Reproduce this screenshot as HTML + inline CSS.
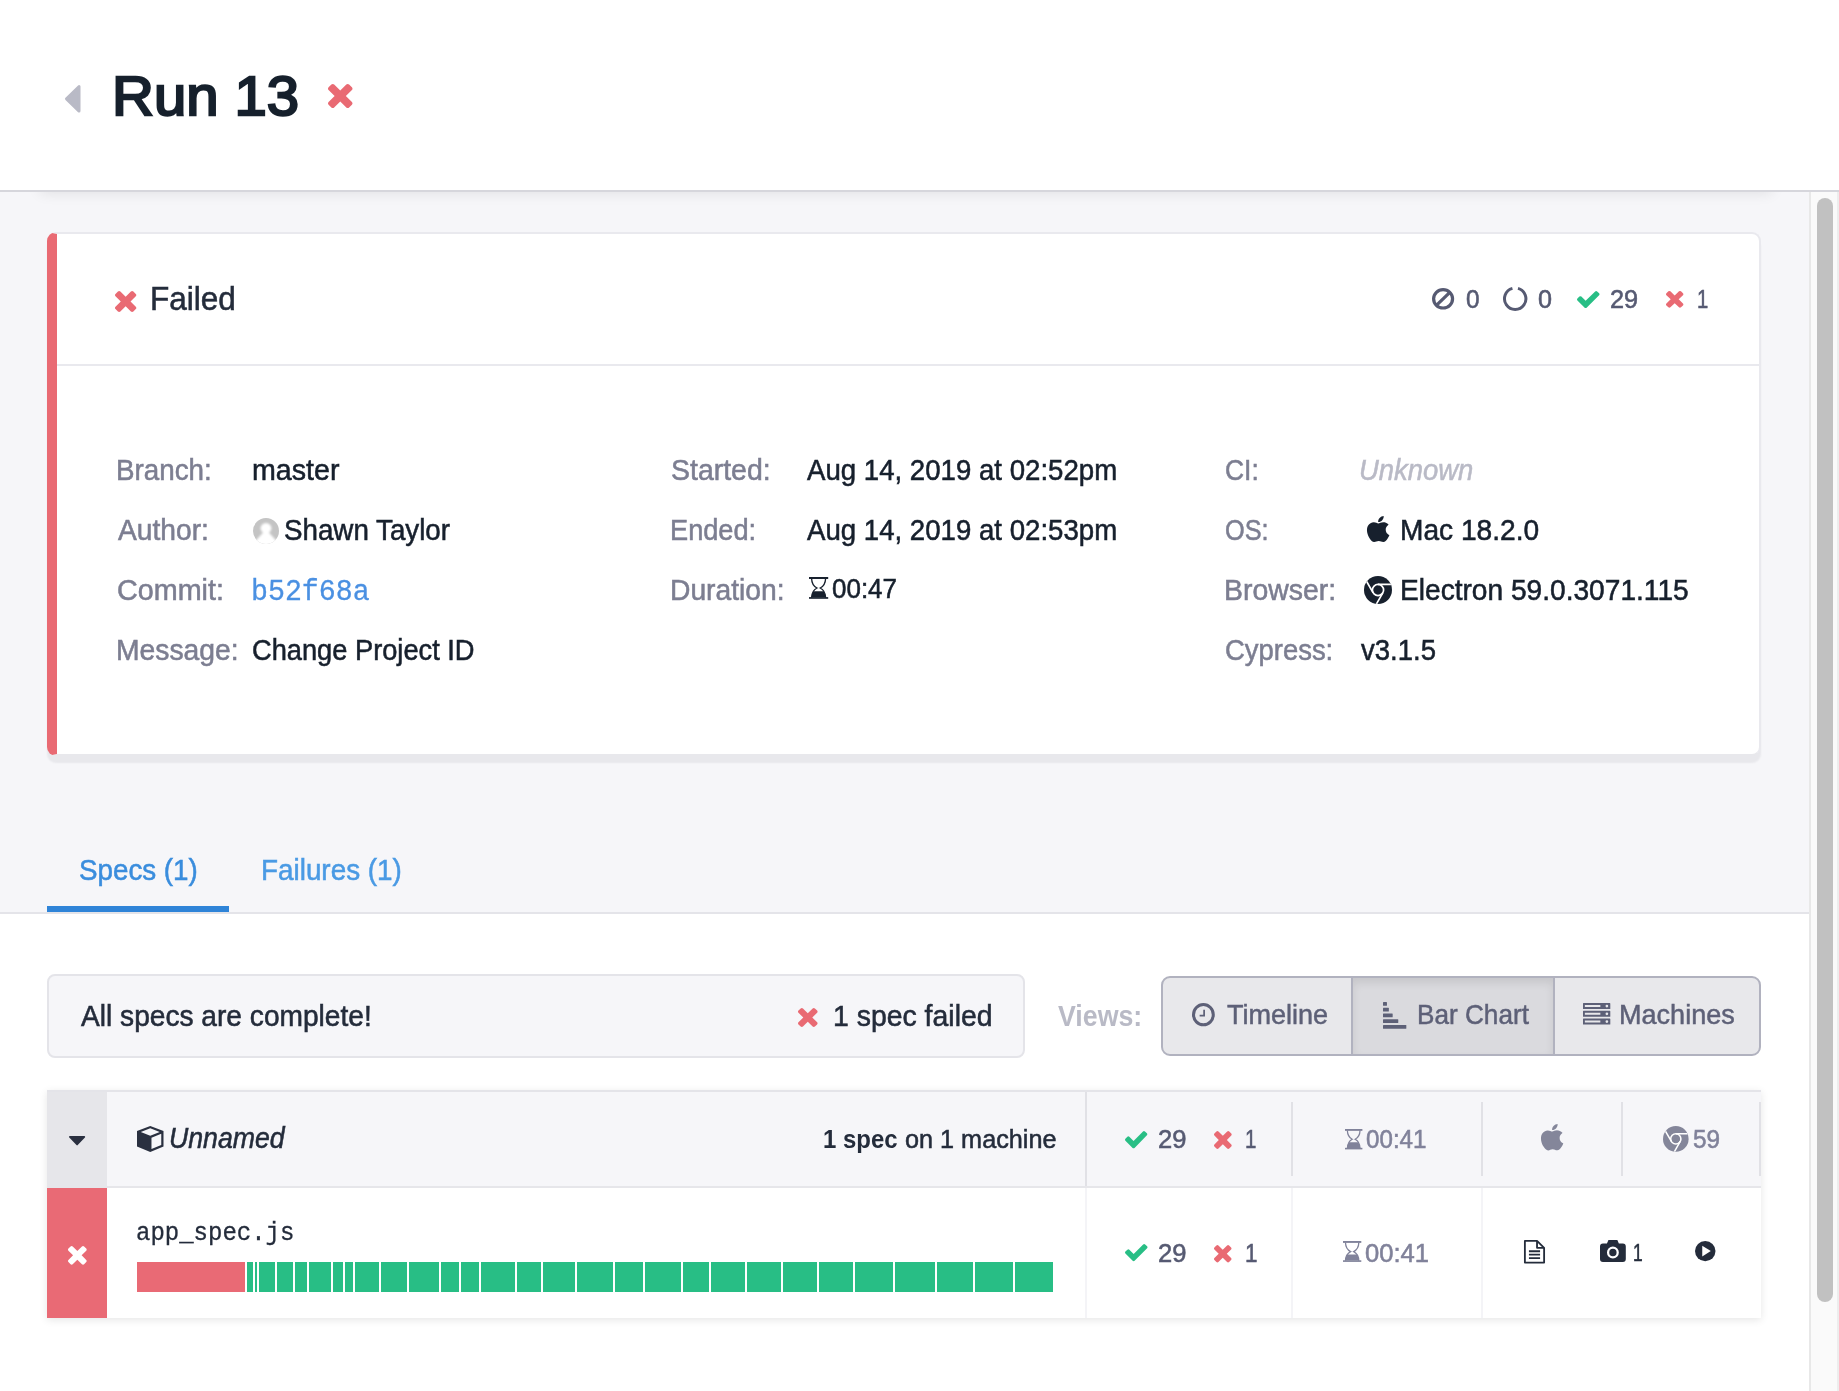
<!DOCTYPE html>
<html><head><meta charset="utf-8"><title>Run 13</title>
<style>
html,body{margin:0;padding:0}
body{width:1839px;height:1391px;overflow:hidden;position:relative;background:#fff;font-family:'Liberation Sans', sans-serif;}
.t{position:absolute;white-space:nowrap;line-height:1;will-change:transform;}
.t span{display:inline-block;transform-origin:0 0;}
.ic{position:absolute;overflow:visible;display:block}
.b{position:absolute;box-sizing:border-box}

#hdr{left:0;top:0;width:1839px;height:190px;background:#fff}
#hline{left:0;top:190px;width:1839px;height:2px;background:#d6d6dc}
#main{left:0;top:192px;width:1809px;height:721px;background:#f6f6f9}
#hshadow{left:40px;top:176px;width:1732px;height:14px;background:transparent;box-shadow:0 3px 14px 0 rgba(0,0,10,.095)}
#sb{left:1809px;top:192px;width:30px;height:1199px;background:#fafafa;border-left:2px solid #e8e8e8;border-right:2px solid #ededed}
#thumb{left:1817px;top:198px;width:16px;height:1104px;background:#c1c1c1;border-radius:8px}
#card{left:47px;top:232px;width:1714px;height:524px;background:#fff;border:2px solid #e9e9ee;border-bottom-color:#e8e8ec;border-left:10px solid #e96a73;border-radius:9px;box-shadow:0 7px 2px 0 rgba(20,20,35,.058)}
#cdiv{left:57px;top:364px;width:1702px;height:2px;background:#e9e9ee}
#tabline{left:0;top:912px;width:1809px;height:2px;background:#e4e4e9}
#tabul{left:47px;top:906px;width:182px;height:6px;background:#2f84d8}
#status{left:47px;top:974px;width:978px;height:84px;background:#f6f6f9;border:2px solid #e4e4e9;border-radius:8px}
#btns{left:1161px;top:976px;width:600px;height:80px;background:#e8e8eb;border:2px solid #b1b2bf;border-radius:9px;overflow:hidden}
#btnact{left:1351px;top:978px;width:204px;height:76px;background:#dadade;border-left:2px solid #b1b2bf;border-right:2px solid #b1b2bf;box-shadow:inset 0 5px 8px rgba(0,0,0,.09)}
#tbl{left:47px;top:1090px;width:1714px;height:228px;background:#fff;box-shadow:0 2px 8px rgba(0,0,0,.10)}
#thead{left:47px;top:1090px;width:1714px;height:98px;background:#f6f6f9;border-top:2px solid #e4e4e9;border-bottom:2px solid #e6e6ea}
#thc{left:47px;top:1092px;width:60px;height:94px;background:#e6e6ea}
#trc{left:47px;top:1188px;width:60px;height:130px;background:#e96a75}
.vd{width:2px;background:#e1e1e6}
.vr{width:2px;background:#f4f4f7}
#bred{left:137px;top:1262px;width:108px;height:30px;background:#e96a75}
.g{top:1262px;height:30px;background:#28be85}

</style></head>
<body>

<div class="b" id="main"></div>
<div class="b" id="hshadow"></div>
<div class="b" id="hdr"></div>
<div class="b" id="sb"></div>
<div class="b" id="hline"></div>
<div class="b" id="thumb"></div>
<div class="b" id="card"></div>
<div class="b" id="cdiv"></div>
<div class="b" id="tabline"></div>
<div class="b" id="tabul"></div>
<div class="b" id="status"></div>
<div class="b" id="btns"></div>
<div class="b" id="btnact"></div>
<div class="b" id="tbl"></div>
<div class="b" id="thead"></div>
<div class="b" id="thc"></div>
<div class="b" id="trc"></div>
<div class="b vd" style="left:1085px;top:1092px;height:94px"></div>
<div class="b vd" style="left:1291px;top:1102px;height:74px"></div>
<div class="b vd" style="left:1481px;top:1102px;height:74px"></div>
<div class="b vd" style="left:1621px;top:1102px;height:74px"></div>
<div class="b vd" style="left:1759px;top:1102px;height:74px"></div>
<div class="b vr" style="left:1085px;top:1188px;height:130px"></div>
<div class="b vr" style="left:1291px;top:1188px;height:130px"></div>
<div class="b vr" style="left:1481px;top:1188px;height:130px"></div>
<div class="b" id="bred"></div>
<div class="b g" style="left:247px;width:6px"></div><div class="b g" style="left:255px;width:2px"></div><div class="b g" style="left:259px;width:16px"></div><div class="b g" style="left:277px;width:16px"></div><div class="b g" style="left:295px;width:12px"></div><div class="b g" style="left:309px;width:22px"></div><div class="b g" style="left:333px;width:10px"></div><div class="b g" style="left:345px;width:8px"></div><div class="b g" style="left:355px;width:24px"></div><div class="b g" style="left:381px;width:26px"></div><div class="b g" style="left:409px;width:30px"></div><div class="b g" style="left:441px;width:18px"></div><div class="b g" style="left:461px;width:18px"></div><div class="b g" style="left:481px;width:34px"></div><div class="b g" style="left:517px;width:24px"></div><div class="b g" style="left:543px;width:32px"></div><div class="b g" style="left:577px;width:36px"></div><div class="b g" style="left:615px;width:28px"></div><div class="b g" style="left:645px;width:36px"></div><div class="b g" style="left:683px;width:26px"></div><div class="b g" style="left:711px;width:34px"></div><div class="b g" style="left:747px;width:34px"></div><div class="b g" style="left:783px;width:34px"></div><div class="b g" style="left:819px;width:34px"></div><div class="b g" style="left:855px;width:38px"></div><div class="b g" style="left:895px;width:40px"></div><div class="b g" style="left:937px;width:36px"></div><div class="b g" style="left:975px;width:38px"></div><div class="b g" style="left:1015px;width:38px"></div>
<svg class="ic" id="avatar" viewBox="0 0 26 26" style="left:253px;top:518px;width:26px;height:26px"><defs><filter id="avb" x="-20%" y="-20%" width="140%" height="140%"><feGaussianBlur stdDeviation="1.100"/></filter><clipPath id="avc"><circle cx="13" cy="13" r="13"/></clipPath></defs><circle cx="13" cy="13" r="13" fill="#c4c4c4"/><g clip-path="url(#avc)"><g fill="#fff" filter="url(#avb)"><circle cx="13" cy="10.300" r="5.400"/><path d="M10.200 14.500 Q13 13.500 15.800 14.500 L25 24.500 L25 30 L1 30 L1 24.500 Z"/></g></g></svg>

<svg class="ic" viewBox="0.500 0.500 16.000 27.000" preserveAspectRatio="none" style="left:64.50px;top:85.00px;width:15.50px;height:27.60px;color:#b9bac6;"><path fill="currentColor" stroke="currentColor" stroke-width="3" stroke-linejoin="round" d="M15 2 L15 26 L2 14 Z"/></svg>
<svg class="ic" viewBox="302.500 367.500 1187.500 1185.000" preserveAspectRatio="none" style="left:327.80px;top:84.30px;width:24.50px;height:24.00px;color:#e96a73;"><path fill="currentColor" d="M1490 1322q0 40-28 68l-136 136q-28 28-68 28t-68-28l-294-294-294 294q-28 28-68 28t-68-28l-136-136q-28-28-28-68t28-68l294-294-294-294q-28-28-28-68t28-68l136-136q28-28 68-28t68 28l294 294 294-294q28-28 68-28t68 28l136 136q28 28 28 68t-28 68l-294 294 294 294q28 28 28 68z"/></svg>
<svg class="ic" viewBox="302.500 367.500 1187.500 1185.000" preserveAspectRatio="none" style="left:115.00px;top:291.00px;width:21.30px;height:21.00px;color:#e96a73;"><path fill="currentColor" d="M1490 1322q0 40-28 68l-136 136q-28 28-68 28t-68-28l-294-294-294 294q-28 28-68 28t-68-28l-136-136q-28-28-28-68t28-68l294-294-294-294q-28-28-28-68t28-68l136-136q28-28 68-28t68 28l294 294 294-294q28-28 68-28t68 28l136 136q28 28 28 68t-28 68l-294 294 294 294q28 28 28 68z"/></svg>
<svg class="ic" viewBox="1.000 1.000 22.000 22.000" preserveAspectRatio="none" style="left:1432.00px;top:288.40px;width:22.20px;height:21.60px;color:#565a72;"><circle cx="12" cy="12" r="9.4" fill="none" stroke="currentColor" stroke-width="3.2"/><path d="M5.6 18.4 L18.4 5.6" stroke="currentColor" stroke-width="3.2"/></svg>
<svg class="ic" viewBox="0.125 0.562 23.750 23.250" preserveAspectRatio="none" style="left:1503.20px;top:287.00px;width:24.40px;height:23.90px;color:#565a72;"><path fill="none" stroke="currentColor" stroke-width="2.900" d="M9.300 1.950 A10.400 10.400 0 1 0 14.700 1.950"/></svg>
<svg class="ic" viewBox="120.000 335.000 1550.000 1187.500" preserveAspectRatio="none" style="left:1576.80px;top:290.90px;width:22.50px;height:17.10px;color:#28be85;"><path fill="currentColor" d="M1671 566q0 40-28 68l-724 724-136 136q-28 28-68 28t-68-28l-136-136-362-362q-28-28-28-68t28-68l136-136q28-28 68-28t68 28l294 295 656-657q28-28 68-28t68 28l136 136q28 28 28 68z"/></svg>
<svg class="ic" viewBox="302.500 367.500 1187.500 1185.000" preserveAspectRatio="none" style="left:1665.90px;top:291.30px;width:17.40px;height:16.70px;color:#e96a73;"><path fill="currentColor" d="M1490 1322q0 40-28 68l-136 136q-28 28-68 28t-68-28l-294-294-294 294q-28 28-68 28t-68-28l-136-136q-28-28-28-68t28-68l294-294-294-294q-28-28-28-68t28-68l136-136q28-28 68-28t68 28l294 294 294-294q28-28 68-28t68 28l136 136q28 28 28 68t-28 68l-294 294 294 294q28 28 28 68z"/></svg>
<svg class="ic" viewBox="0.000 0.000 20.000 22.000" preserveAspectRatio="none" style="left:808.80px;top:577.00px;width:19.20px;height:21.80px;color:#17202d;"><g fill="currentColor"><rect x="0" y="0" width="20" height="2"/><rect x="0" y="20.300" width="20" height="1.700"/><path d="M4.700 14.300 H15.300 Q17.300 17 17.500 20.500 H2.500 Q2.700 17 4.700 14.300 Z"/></g><path fill="none" stroke="currentColor" stroke-width="1.400" d="M2.700 1.500 Q2.900 8.400 8.300 11.100 Q2.900 13.800 2.700 20.800 M17.300 1.500 Q17.100 8.400 11.700 11.100 Q17.100 13.800 17.300 20.800"/></svg>
<svg class="ic" viewBox="2.250 0.000 19.500 24.000" preserveAspectRatio="none" style="left:1367.00px;top:516.00px;width:22.40px;height:26.00px;color:#17202d;"><path fill="currentColor" d="M12.152 6.896c-.948 0-2.415-1.078-3.96-1.04-2.04.027-3.91 1.183-4.961 3.014-2.117 3.675-.546 9.103 1.519 12.09 1.013 1.454 2.208 3.09 3.792 3.039 1.52-.065 2.09-.987 3.935-.987 1.831 0 2.35.987 3.96.948 1.637-.026 2.676-1.48 3.676-2.948 1.156-1.688 1.636-3.325 1.662-3.415-.039-.013-3.182-1.221-3.22-4.857-.026-3.04 2.48-4.494 2.597-4.559-1.429-2.09-3.623-2.324-4.39-2.376-2-.156-3.675 1.09-4.61 1.09zM15.53 3.83c.843-1.012 1.4-2.427 1.245-3.83-1.207.052-2.662.805-3.532 1.818-.78.896-1.454 2.338-1.273 3.714 1.338.104 2.715-.688 3.559-1.701"/></svg>
<svg class="ic" viewBox="0.000 0.000 28.000 28.000" preserveAspectRatio="none" style="left:1364.00px;top:576.00px;width:28.00px;height:28.00px;color:#17202d;"><defs><clipPath id="chc"><circle cx="14" cy="14" r="14"/></clipPath></defs><circle cx="14" cy="14" r="14" fill="currentColor"/><g clip-path="url(#chc)"><circle cx="14" cy="14" r="5.6" fill="none" stroke="#fff" stroke-width="1.7"/><path stroke="#fff" stroke-width="1.7" fill="none" d="M14 8.400 L27 8.400 M9.150 16.800 L2.650 5.540 M18.850 16.800 L12.350 28.060"/></g></svg>
<svg class="ic" viewBox="302.500 367.500 1187.500 1185.000" preserveAspectRatio="none" style="left:798.00px;top:1007.60px;width:19.60px;height:19.00px;color:#e96a73;"><path fill="currentColor" d="M1490 1322q0 40-28 68l-136 136q-28 28-68 28t-68-28l-294-294-294 294q-28 28-68 28t-68-28l-136-136q-28-28-28-68t28-68l294-294-294-294q-28-28-28-68t28-68l136-136q28-28 68-28t68 28l294 294 294-294q28-28 68-28t68 28l136 136q28 28 28 68t-28 68l-294 294 294 294q28 28 28 68z"/></svg>
<svg class="ic" viewBox="0.812 0.812 22.375 22.375" preserveAspectRatio="none" style="left:1191.80px;top:1002.70px;width:22.80px;height:23.30px;color:#5d6077;"><circle cx="12" cy="12" r="9.700" fill="none" stroke="currentColor" stroke-width="3"/><path d="M12.700 7.400 V12.900 H8.300" fill="none" stroke="currentColor" stroke-width="1.700"/></svg>
<svg class="ic" viewBox="0.000 0.000 22.875 26.438" preserveAspectRatio="none" style="left:1383.00px;top:1001.80px;width:23.30px;height:26.70px;color:#5d6077;"><g fill="currentColor"><rect x="0" y="0" width="3.9" height="3.650" rx="0.500"/><rect x="0" y="5.7" width="5.75" height="3.650" rx="0.500"/><rect x="0" y="11.4" width="9.5" height="3.650" rx="0.500"/><rect x="0" y="17.1" width="15" height="3.650" rx="0.500"/><rect x="0" y="22.8" width="22.9" height="3.650" rx="0.500"/></g></svg>
<svg class="ic" viewBox="0.000 0.000 28.000 21.688" preserveAspectRatio="none" style="left:1582.70px;top:1002.80px;width:27.30px;height:21.60px;color:#5d6077;"><g fill="currentColor"><path fill-rule="evenodd" d="M0.400 0 H27.600 Q28 0 28 0.4 V5.7 Q28 6.1 27.600 6.1 H0.400 Q0 6.1 0 5.7 V0.4 Q0 0 0.400 0 Z M1.900 2.1 V4.0 H17.800 V2.1 Z M24.500 1.65 A1.400 1.400 0 1 0 24.500 4.45 A1.400 1.400 0 1 0 24.500 1.65 Z"/><path fill-rule="evenodd" d="M0.400 7.8 H27.600 Q28 7.8 28 8.2 V13.5 Q28 13.899999999999999 27.600 13.899999999999999 H0.400 Q0 13.899999999999999 0 13.5 V8.2 Q0 7.8 0.400 7.8 Z M1.900 9.9 V11.8 H17.800 V9.9 Z M24.500 9.45 A1.400 1.400 0 1 0 24.500 12.25 A1.400 1.400 0 1 0 24.500 9.45 Z"/><path fill-rule="evenodd" d="M0.400 15.6 H27.600 Q28 15.6 28 16.0 V21.3 Q28 21.7 27.600 21.7 H0.400 Q0 21.7 0 21.3 V16.0 Q0 15.6 0.400 15.6 Z M1.900 17.7 V19.6 H17.800 V17.7 Z M24.500 17.25 A1.400 1.400 0 1 0 24.500 20.05 A1.400 1.400 0 1 0 24.500 17.25 Z"/></g></svg>
<svg class="ic" viewBox="0.000 0.000 18.000 10.000" preserveAspectRatio="none" style="left:69.00px;top:1135.90px;width:16.20px;height:9.40px;color:#2a3040;"><path fill="currentColor" stroke="currentColor" stroke-width="2" stroke-linejoin="round" d="M1 1 L17 1 L9 9 Z"/></svg>
<svg class="ic" viewBox="0.000 0.000 26.000 26.000" preserveAspectRatio="none" style="left:136.80px;top:1125.70px;width:26.50px;height:26.10px;color:#2a3040;"><path fill="currentColor" fill-rule="evenodd" d="M13 0 L26 5 V20.500 L13 26 L0 20.500 V5 Z M13 2.300 L3.700 5.900 L13 9.600 L22.300 5.900 Z M14.200 11.600 V23 L23.800 19 V7.800 Z"/></svg>
<svg class="ic" viewBox="120.000 335.000 1550.000 1187.500" preserveAspectRatio="none" style="left:1124.90px;top:1130.70px;width:22.30px;height:17.30px;color:#28be85;"><path fill="currentColor" d="M1671 566q0 40-28 68l-724 724-136 136q-28 28-68 28t-68-28l-136-136-362-362q-28-28-28-68t28-68l136-136q28-28 68-28t68 28l294 295 656-657q28-28 68-28t68 28l136 136q28 28 28 68z"/></svg>
<svg class="ic" viewBox="302.500 367.500 1187.500 1185.000" preserveAspectRatio="none" style="left:1213.80px;top:1131.00px;width:17.70px;height:18.00px;color:#e96a73;"><path fill="currentColor" d="M1490 1322q0 40-28 68l-136 136q-28 28-68 28t-68-28l-294-294-294 294q-28 28-68 28t-68-28l-136-136q-28-28-28-68t28-68l294-294-294-294q-28-28-28-68t28-68l136-136q28-28 68-28t68 28l294 294 294-294q28-28 68-28t68 28l136 136q28 28 28 68t-28 68l-294 294 294 294q28 28 28 68z"/></svg>
<svg class="ic" viewBox="0.000 0.000 20.000 22.000" preserveAspectRatio="none" style="left:1344.70px;top:1128.50px;width:17.40px;height:20.40px;color:#80829a;"><g fill="currentColor"><rect x="0" y="0" width="20" height="2"/><rect x="0" y="20.300" width="20" height="1.700"/><path d="M4.700 14.300 H15.300 Q17.300 17 17.500 20.500 H2.500 Q2.700 17 4.700 14.300 Z"/></g><path fill="none" stroke="currentColor" stroke-width="1.400" d="M2.700 1.500 Q2.900 8.400 8.300 11.100 Q2.900 13.800 2.700 20.800 M17.300 1.500 Q17.100 8.400 11.700 11.100 Q17.100 13.800 17.300 20.800"/></svg>
<svg class="ic" viewBox="2.250 0.000 19.500 24.000" preserveAspectRatio="none" style="left:1540.50px;top:1123.90px;width:22.30px;height:26.40px;color:#84869a;"><path fill="currentColor" d="M12.152 6.896c-.948 0-2.415-1.078-3.96-1.04-2.04.027-3.91 1.183-4.961 3.014-2.117 3.675-.546 9.103 1.519 12.09 1.013 1.454 2.208 3.09 3.792 3.039 1.52-.065 2.09-.987 3.935-.987 1.831 0 2.35.987 3.96.948 1.637-.026 2.676-1.48 3.676-2.948 1.156-1.688 1.636-3.325 1.662-3.415-.039-.013-3.182-1.221-3.22-4.857-.026-3.04 2.48-4.494 2.597-4.559-1.429-2.09-3.623-2.324-4.39-2.376-2-.156-3.675 1.09-4.61 1.09zM15.53 3.83c.843-1.012 1.4-2.427 1.245-3.83-1.207.052-2.662.805-3.532 1.818-.78.896-1.454 2.338-1.273 3.714 1.338.104 2.715-.688 3.559-1.701"/></svg>
<svg class="ic" viewBox="0.000 0.000 28.000 28.000" preserveAspectRatio="none" style="left:1662.80px;top:1125.80px;width:25.60px;height:25.80px;color:#84869a;"><defs><clipPath id="chc"><circle cx="14" cy="14" r="14"/></clipPath></defs><circle cx="14" cy="14" r="14" fill="currentColor"/><g clip-path="url(#chc)"><circle cx="14" cy="14" r="5.6" fill="none" stroke="#fff" stroke-width="1.7"/><path stroke="#fff" stroke-width="1.7" fill="none" d="M14 8.400 L27 8.400 M9.150 16.800 L2.650 5.540 M18.850 16.800 L12.350 28.060"/></g></svg>
<svg class="ic" viewBox="302.500 367.500 1187.500 1185.000" preserveAspectRatio="none" style="left:67.60px;top:1245.70px;width:18.70px;height:18.70px;color:#ffffff;"><path fill="currentColor" d="M1490 1322q0 40-28 68l-136 136q-28 28-68 28t-68-28l-294-294-294 294q-28 28-68 28t-68-28l-136-136q-28-28-28-68t28-68l294-294-294-294q-28-28-28-68t28-68l136-136q28-28 68-28t68 28l294 294 294-294q28-28 68-28t68 28l136 136q28 28 28 68t-28 68l-294 294 294 294q28 28 28 68z"/></svg>
<svg class="ic" viewBox="120.000 335.000 1550.000 1187.500" preserveAspectRatio="none" style="left:1124.90px;top:1244.40px;width:22.50px;height:17.20px;color:#28be85;"><path fill="currentColor" d="M1671 566q0 40-28 68l-724 724-136 136q-28 28-68 28t-68-28l-136-136-362-362q-28-28-28-68t28-68l136-136q28-28 68-28t68 28l294 295 656-657q28-28 68-28t68 28l136 136q28 28 28 68z"/></svg>
<svg class="ic" viewBox="302.500 367.500 1187.500 1185.000" preserveAspectRatio="none" style="left:1214.00px;top:1244.50px;width:17.50px;height:17.50px;color:#e96a73;"><path fill="currentColor" d="M1490 1322q0 40-28 68l-136 136q-28 28-68 28t-68-28l-294-294-294 294q-28 28-68 28t-68-28l-136-136q-28-28-28-68t28-68l294-294-294-294q-28-28-28-68t28-68l136-136q28-28 68-28t68 28l294 294 294-294q28-28 68-28t68 28l136 136q28 28 28 68t-28 68l-294 294 294 294q28 28 28 68z"/></svg>
<svg class="ic" viewBox="0.000 0.000 20.000 22.000" preserveAspectRatio="none" style="left:1342.70px;top:1241.40px;width:18.30px;height:20.90px;color:#80829a;"><g fill="currentColor"><rect x="0" y="0" width="20" height="2"/><rect x="0" y="20.300" width="20" height="1.700"/><path d="M4.700 14.300 H15.300 Q17.300 17 17.500 20.500 H2.500 Q2.700 17 4.700 14.300 Z"/></g><path fill="none" stroke="currentColor" stroke-width="1.400" d="M2.700 1.500 Q2.900 8.400 8.300 11.100 Q2.900 13.800 2.700 20.800 M17.300 1.500 Q17.100 8.400 11.700 11.100 Q17.100 13.800 17.300 20.800"/></svg>
<svg class="ic" viewBox="0.125 0.062 20.750 23.875" preserveAspectRatio="none" style="left:1524.20px;top:1239.50px;width:21.00px;height:23.50px;color:#242c3b;"><path fill="none" stroke="currentColor" stroke-width="1.800" stroke-linejoin="round" d="M1 1 H13 L20 8 V23 H1 Z M13 1 V8 H20"/><path stroke="currentColor" stroke-width="1.800" d="M5 11.500 H16 M5 15 H16 M5 18.500 H16"/></svg>
<svg class="ic" viewBox="0.000 0.000 26.000 22.000" preserveAspectRatio="none" style="left:1600.40px;top:1239.50px;width:25.80px;height:22.10px;color:#242c3b;"><path fill="currentColor" fill-rule="evenodd" d="M8.500 0 H17.500 L19 3.500 H23 Q26 3.500 26 6.500 V19 Q26 22 23 22 H3 Q0 22 0 19 V6.500 Q0 3.500 3 3.500 H7 Z M13 6.500 A6 6 0 1 0 13 18.500 A6 6 0 1 0 13 6.500 Z M13 8.800 A3.700 3.700 0 1 1 13 16.200 A3.700 3.700 0 1 1 13 8.800 Z"/></svg>
<svg class="ic" viewBox="0.000 0.000 21.000 21.000" preserveAspectRatio="none" style="left:1695.20px;top:1241.40px;width:20.50px;height:20.20px;color:#242c3b;"><circle cx="10.500" cy="10.500" r="10.500" fill="currentColor"/><path fill="#fff" d="M7.400 5 L16.200 10.500 L7.400 16 Z"/></svg>
<div class="t" style="left:112.26px;top:69.00px;font-family:'Liberation Sans', sans-serif;font-size:55.5px;font-weight:normal;font-style:normal;-webkit-text-stroke:2.3px currentColor;color:#16202c"><span style="transform:scaleX(1.0457)">Run 13</span></div>
<div class="t" style="left:149.69px;top:282.00px;font-family:'Liberation Sans', sans-serif;font-size:33px;font-weight:normal;font-style:normal;-webkit-text-stroke:0.55px currentColor;color:#242c3b"><span style="transform:scaleX(0.9558)">Failed</span></div>
<div class="t" style="left:1465.62px;top:287.00px;font-family:'Liberation Sans', sans-serif;font-size:25px;font-weight:normal;font-style:normal;-webkit-text-stroke:0.55px currentColor;color:#565a72"><span style="transform:scaleX(0.9750)">0</span></div>
<div class="t" style="left:1537.59px;top:287.00px;font-family:'Liberation Sans', sans-serif;font-size:25px;font-weight:normal;font-style:normal;-webkit-text-stroke:0.55px currentColor;color:#565a72"><span style="transform:scaleX(1.0083)">0</span></div>
<div class="t" style="left:1609.99px;top:287.00px;font-family:'Liberation Sans', sans-serif;font-size:25px;font-weight:normal;font-style:normal;-webkit-text-stroke:0.55px currentColor;color:#565a72"><span style="transform:scaleX(1.0115)">29</span></div>
<div class="t" style="left:1696.88px;top:287.00px;font-family:'Liberation Sans', sans-serif;font-size:25px;font-weight:normal;font-style:normal;-webkit-text-stroke:0.55px currentColor;color:#565a72"><span style="transform:scaleX(0.8091)">1</span></div>
<div class="t" style="left:116.08px;top:455.50px;font-family:'Liberation Sans', sans-serif;font-size:29px;font-weight:normal;font-style:normal;-webkit-text-stroke:0.55px currentColor;color:#7c7e91"><span style="transform:scaleX(0.9583)">Branch:</span></div>
<div class="t" style="left:117.50px;top:515.50px;font-family:'Liberation Sans', sans-serif;font-size:29px;font-weight:normal;font-style:normal;-webkit-text-stroke:0.55px currentColor;color:#7c7e91"><span style="transform:scaleX(0.9725)">Author:</span></div>
<div class="t" style="left:117.01px;top:575.50px;font-family:'Liberation Sans', sans-serif;font-size:29px;font-weight:normal;font-style:normal;-webkit-text-stroke:0.55px currentColor;color:#7c7e91"><span style="transform:scaleX(0.9905)">Commit:</span></div>
<div class="t" style="left:116.05px;top:635.50px;font-family:'Liberation Sans', sans-serif;font-size:29px;font-weight:normal;font-style:normal;-webkit-text-stroke:0.55px currentColor;color:#7c7e91"><span style="transform:scaleX(0.9754)">Message:</span></div>
<div class="t" style="left:670.82px;top:455.50px;font-family:'Liberation Sans', sans-serif;font-size:29px;font-weight:normal;font-style:normal;-webkit-text-stroke:0.55px currentColor;color:#7c7e91"><span style="transform:scaleX(0.9816)">Started:</span></div>
<div class="t" style="left:670.12px;top:515.50px;font-family:'Liberation Sans', sans-serif;font-size:29px;font-weight:normal;font-style:normal;-webkit-text-stroke:0.55px currentColor;color:#7c7e91"><span style="transform:scaleX(0.9375)">Ended:</span></div>
<div class="t" style="left:670.05px;top:575.50px;font-family:'Liberation Sans', sans-serif;font-size:29px;font-weight:normal;font-style:normal;-webkit-text-stroke:0.55px currentColor;color:#7c7e91"><span style="transform:scaleX(0.9735)">Duration:</span></div>
<div class="t" style="left:1224.89px;top:455.50px;font-family:'Liberation Sans', sans-serif;font-size:29px;font-weight:normal;font-style:normal;-webkit-text-stroke:0.55px currentColor;color:#7c7e91"><span style="transform:scaleX(0.9118)">CI:</span></div>
<div class="t" style="left:1225.13px;top:515.50px;font-family:'Liberation Sans', sans-serif;font-size:29px;font-weight:normal;font-style:normal;-webkit-text-stroke:0.55px currentColor;color:#7c7e91"><span style="transform:scaleX(0.8723)">OS:</span></div>
<div class="t" style="left:1224.04px;top:575.50px;font-family:'Liberation Sans', sans-serif;font-size:29px;font-weight:normal;font-style:normal;-webkit-text-stroke:0.55px currentColor;color:#7c7e91"><span style="transform:scaleX(0.9791)">Browser:</span></div>
<div class="t" style="left:1225.05px;top:635.50px;font-family:'Liberation Sans', sans-serif;font-size:29px;font-weight:normal;font-style:normal;-webkit-text-stroke:0.55px currentColor;color:#7c7e91"><span style="transform:scaleX(0.9459)">Cypress:</span></div>
<div class="t" style="left:252.03px;top:455.50px;font-family:'Liberation Sans', sans-serif;font-size:29px;font-weight:normal;font-style:normal;-webkit-text-stroke:0.55px currentColor;color:#17202d"><span style="transform:scaleX(0.9862)">master</span></div>
<div class="t" style="left:283.54px;top:515.50px;font-family:'Liberation Sans', sans-serif;font-size:29px;font-weight:normal;font-style:normal;-webkit-text-stroke:0.55px currentColor;color:#17202d"><span style="transform:scaleX(0.9566)">Shawn Taylor</span></div>
<div class="t" style="left:251.12px;top:576.50px;font-family:'Liberation Mono', monospace;font-size:30px;font-weight:normal;font-style:normal;-webkit-text-stroke:0.3px currentColor;color:#4a90e2"><span style="transform:scaleX(0.9415)">b52f68a</span></div>
<div class="t" style="left:252.06px;top:635.50px;font-family:'Liberation Sans', sans-serif;font-size:29px;font-weight:normal;font-style:normal;-webkit-text-stroke:0.55px currentColor;color:#17202d"><span style="transform:scaleX(0.9391)">Change Project ID</span></div>
<div class="t" style="left:807.00px;top:455.50px;font-family:'Liberation Sans', sans-serif;font-size:29px;font-weight:normal;font-style:normal;-webkit-text-stroke:0.55px currentColor;color:#17202d"><span style="transform:scaleX(0.9522)">Aug 14, 2019 at 02:52pm</span></div>
<div class="t" style="left:807.00px;top:515.50px;font-family:'Liberation Sans', sans-serif;font-size:29px;font-weight:normal;font-style:normal;-webkit-text-stroke:0.55px currentColor;color:#17202d"><span style="transform:scaleX(0.9522)">Aug 14, 2019 at 02:53pm</span></div>
<div class="t" style="left:832.04px;top:575.50px;font-family:'Liberation Sans', sans-serif;font-size:27px;font-weight:normal;font-style:normal;-webkit-text-stroke:0.55px currentColor;color:#17202d"><span style="transform:scaleX(0.9621)">00:47</span></div>
<div class="t" style="left:1359.01px;top:455.50px;font-family:'Liberation Sans', sans-serif;font-size:29px;font-weight:normal;font-style:italic;-webkit-text-stroke:0.55px currentColor;color:#b9bac6"><span style="transform:scaleX(0.9449)">Unknown</span></div>
<div class="t" style="left:1399.76px;top:515.50px;font-family:'Liberation Sans', sans-serif;font-size:29px;font-weight:normal;font-style:normal;-webkit-text-stroke:0.55px currentColor;color:#17202d"><span style="transform:scaleX(0.9695)">Mac 18.2.0</span></div>
<div class="t" style="left:1399.76px;top:575.50px;font-family:'Liberation Sans', sans-serif;font-size:29px;font-weight:normal;font-style:normal;-webkit-text-stroke:0.55px currentColor;color:#17202d"><span style="transform:scaleX(0.9695)">Electron 59.0.3071.115</span></div>
<div class="t" style="left:1361.00px;top:635.50px;font-family:'Liberation Sans', sans-serif;font-size:29px;font-weight:normal;font-style:normal;-webkit-text-stroke:0.55px currentColor;color:#17202d"><span style="transform:scaleX(0.9487)">v3.1.5</span></div>
<div class="t" style="left:78.67px;top:855.00px;font-family:'Liberation Sans', sans-serif;font-size:30px;font-weight:normal;font-style:normal;-webkit-text-stroke:0.55px currentColor;color:#3a8ddd"><span style="transform:scaleX(0.9254)">Specs (1)</span></div>
<div class="t" style="left:260.74px;top:855.00px;font-family:'Liberation Sans', sans-serif;font-size:30px;font-weight:normal;font-style:normal;-webkit-text-stroke:0.55px currentColor;color:#4a9ae4"><span style="transform:scaleX(0.9284)">Failures (1)</span></div>
<div class="t" style="left:81.30px;top:1002.00px;font-family:'Liberation Sans', sans-serif;font-size:29px;font-weight:normal;font-style:normal;-webkit-text-stroke:0.55px currentColor;color:#242c3b"><span style="transform:scaleX(0.9698)">All specs are complete!</span></div>
<div class="t" style="left:832.84px;top:1002.00px;font-family:'Liberation Sans', sans-serif;font-size:29px;font-weight:normal;font-style:normal;-webkit-text-stroke:0.55px currentColor;color:#242c3b"><span style="transform:scaleX(0.9799)">1 spec failed</span></div>
<div class="t" style="left:1057.70px;top:1002.00px;font-family:'Liberation Sans', sans-serif;font-size:29px;font-weight:bold;font-style:normal;color:#b9bac6"><span style="transform:scaleX(0.9225)">Views:</span></div>
<div class="t" style="left:1227.10px;top:1001.00px;font-family:'Liberation Sans', sans-serif;font-size:28px;font-weight:normal;font-style:normal;-webkit-text-stroke:0.5px currentColor;color:#5d6077"><span style="transform:scaleX(0.9654)">Timeline</span></div>
<div class="t" style="left:1417.13px;top:1001.00px;font-family:'Liberation Sans', sans-serif;font-size:28px;font-weight:normal;font-style:normal;-webkit-text-stroke:0.5px currentColor;color:#5d6077"><span style="transform:scaleX(0.9339)">Bar Chart</span></div>
<div class="t" style="left:1619.07px;top:1001.00px;font-family:'Liberation Sans', sans-serif;font-size:28px;font-weight:normal;font-style:normal;-webkit-text-stroke:0.5px currentColor;color:#5d6077"><span style="transform:scaleX(0.9658)">Machines</span></div>
<div class="t" style="left:168.96px;top:1123.90px;font-family:'Liberation Sans', sans-serif;font-size:29px;font-weight:normal;font-style:italic;-webkit-text-stroke:0.55px currentColor;color:#242c3b"><span style="transform:scaleX(0.9200)">Unnamed</span></div>
<div class="t" style="left:823.19px;top:1126.10px;font-family:'Liberation Sans', sans-serif;font-size:26.5px;font-weight:bold;font-style:normal;color:#242c3b"><span style="transform:scaleX(0.9037)">1 spec</span></div>
<div class="t" style="left:904.55px;top:1126.10px;font-family:'Liberation Sans', sans-serif;font-size:26.5px;font-weight:normal;font-style:normal;-webkit-text-stroke:0.55px currentColor;color:#242c3b"><span style="transform:scaleX(0.9522)">on 1 machine</span></div>
<div class="t" style="left:1157.88px;top:1127.00px;font-family:'Liberation Sans', sans-serif;font-size:25px;font-weight:normal;font-style:normal;-webkit-text-stroke:0.55px currentColor;color:#565a72"><span style="transform:scaleX(1.0231)">29</span></div>
<div class="t" style="left:1245.36px;top:1127.00px;font-family:'Liberation Sans', sans-serif;font-size:25px;font-weight:normal;font-style:normal;-webkit-text-stroke:0.55px currentColor;color:#565a72"><span style="transform:scaleX(0.8182)">1</span></div>
<div class="t" style="left:1366.03px;top:1127.00px;font-family:'Liberation Sans', sans-serif;font-size:25px;font-weight:normal;font-style:normal;-webkit-text-stroke:0.55px currentColor;color:#80829a"><span style="transform:scaleX(0.9672)">00:41</span></div>
<div class="t" style="left:1692.83px;top:1127.00px;font-family:'Liberation Sans', sans-serif;font-size:25px;font-weight:normal;font-style:normal;-webkit-text-stroke:0.55px currentColor;color:#80829a"><span style="transform:scaleX(0.9731)">59</span></div>
<div class="t" style="left:136.48px;top:1219.90px;font-family:'Liberation Mono', monospace;font-size:26px;font-weight:normal;font-style:normal;-webkit-text-stroke:0.3px currentColor;color:#242c3b"><span style="transform:scaleX(0.9231)">app_spec.js</span></div>
<div class="t" style="left:1157.78px;top:1240.60px;font-family:'Liberation Sans', sans-serif;font-size:25px;font-weight:normal;font-style:normal;-webkit-text-stroke:0.55px currentColor;color:#565a72"><span style="transform:scaleX(1.0231)">29</span></div>
<div class="t" style="left:1244.50px;top:1240.60px;font-family:'Liberation Sans', sans-serif;font-size:25px;font-weight:normal;font-style:normal;-webkit-text-stroke:0.55px currentColor;color:#565a72"><span style="transform:scaleX(0.9000)">1</span></div>
<div class="t" style="left:1365.32px;top:1240.00px;font-family:'Liberation Sans', sans-serif;font-size:26px;font-weight:normal;font-style:normal;-webkit-text-stroke:0.55px currentColor;color:#80829a"><span style="transform:scaleX(0.9841)">00:41</span></div>
<div class="t" style="left:1633.18px;top:1240.50px;font-family:'Liberation Sans', sans-serif;font-size:24px;font-weight:normal;font-style:normal;-webkit-text-stroke:0.55px currentColor;color:#242c3b"><span style="transform:scaleX(0.7250)">1</span></div>
</body></html>
